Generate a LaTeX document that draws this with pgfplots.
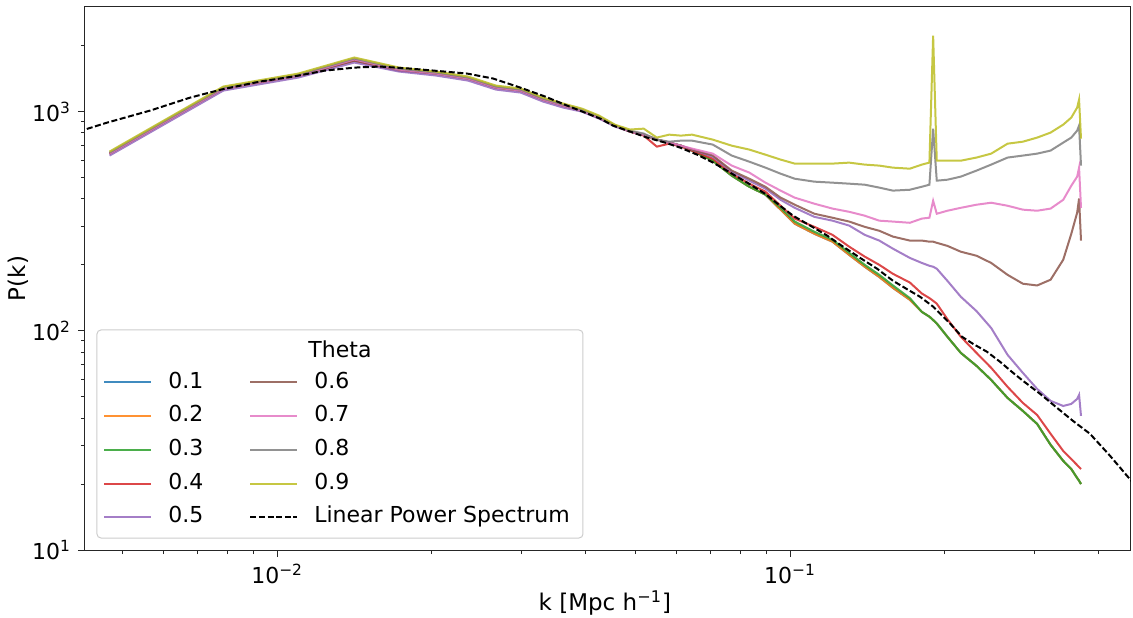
\documentclass[border=0pt]{standalone}
\usepackage{fontspec}
\setmainfont{DejaVu Sans}
\usepackage{pgfplots}
\usepackage{pgfplotstable}
\pgfplotsset{compat=1.18}
\usetikzlibrary{calc}
\definecolor{c1}{HTML}{1F77B4}
\definecolor{c2}{HTML}{FF7F0E}
\definecolor{c3}{HTML}{2CA02C}
\definecolor{c4}{HTML}{D62728}
\definecolor{c5}{HTML}{9467BD}
\definecolor{c6}{HTML}{8C564B}
\definecolor{c7}{HTML}{E377C2}
\definecolor{c8}{HTML}{7F7F7F}
\definecolor{c9}{HTML}{BCBD22}

\pgfplotstableread{
k a b c d e f g h i
0.004712 643 643 643 643 630 643 643 650 657
0.007854 1274 1274 1274 1274 1247 1274 1274 1287 1301
0.010996 1460 1460 1460 1460 1430 1460 1460 1475 1491
0.014137 1709 1709 1709 1709 1674 1709 1728 1746 1765
0.017279 1539 1539 1539 1539 1523 1555 1555 1571 1588
0.020420 1491 1491 1491 1491 1460 1491 1491 1507 1523
0.023562 1415 1415 1415 1415 1385 1415 1415 1430 1445
0.026704 1287 1287 1287 1287 1260 1287 1287 1301 1314
0.029845 1247 1247 1247 1247 1221 1247 1247 1260 1274
0.032987 1134 1134 1134 1134 1111 1134 1134 1146 1158
0.036128 1065 1065 1065 1065 1043 1065 1065 1076 1088
0.039270 1011 1011 1011 1011 1000 1011 1011 1021 1032
0.042412 939 939 939 939 929 939 939 949 959
0.045553 863 863 863 863 854 863 863 863 872
0.048695 811 811 811 811 811 811 811 819 828
0.051836 785 785 785 777 785 785 785 794 836
0.054978 745 745 745 692 745 745 745 745 761
0.058119 722 722 722 714 722 722 722 729 785
0.061261 699 699 699 692 699 699 699 737 777
0.064403 664 664 664 664 671 671 678 737 785
0.070686 597 597 597 610 623 630 643 707 745
0.076969 510 510 510 521 532 538 567 630 699
0.083252 454 454 454 469 484 494 527 591 671
0.089535 418 418 418 431 445 454 474 555 636
0.095819 357 357 364 372 396 405 436 521 604
0.102102 308 308 315 325 364 376 405 494 579
0.111527 277 277 283 298 331 342 380 479 579
0.120951 255 255 260 274 318 328 361 474 579
0.130376 222 222 227 242 302 315 349 469 585
0.139801 196 196 200 218 274 298 335 464 573
0.149226 176 176 180 200 258 286 318 450 567
0.158650 157 157 161 182 237 269 315 436 555
0.171217 138.5 138.5 141 166 215 258 311 440 549
0.180642 122 122 122 148 204 258 325 454 573
0.186925 116 116 116 141 198 255 328 464 585
0.190066 112 112 112 137 196 255 392 836 2223
0.193208 108 108 108 133 192 252 342 484 597
0.202633 93.9 93.9 93.9 113 169 244 353 489 597
0.215199 79.3 79.3 79.3 93.9 143 229.5 364 505 597
0.230907 69.2 69.2 69.2 79.3 123 220 376 538 617
0.246615 59.7 59.7 59.7 67.8 103 204 384 573 643
0.265465 49.4 49.4 49.4 55.5 77.7 180 372 617 714
0.284314 43.1 43.1 43.1 46.9 64.3 164 357 630 729
0.303164 37.6 37.6 37.6 41.3 54.3 161 353 643 761
0.322013 30.2 30.2 30.2 33.9 47.9 171 361 664 802
0.340863 25.5 25.5 25.5 28.3 45.4 211 396 722 872
0.353429 23.4 23.4 23.4 26.0 46.4 277 459 761 939
0.362854 21.3 21.3 21.3 24.4 48.9 346 505 819 1043
0.365996 20.7 20.7 20.7 23.9 51.0 401 555 863 1134
0.369137 20.0 20.0 20.0 23.4 40.9 258 364 567 753
}\spectra

\pgfplotstableread{
k P
0.0041 811
0.004663 891
0.005656 1011
0.006765 1158
0.007776 1260
0.009266 1371
0.010745 1445
0.012407 1539
0.014191 1588
0.015868 1605
0.018163 1571
0.020142 1539
0.023462 1491
0.026368 1415
0.029768 1287
0.033305 1171
0.036747 1065
0.042628 929
0.045186 863
0.048753 811
0.052625 761
0.057054 722
0.061064 685
0.065887 636
0.070795 585
0.076384 527
0.082451 474
0.089392 422
0.095609 372
0.10135 335
0.10940 302
0.11805 272
0.12687 242
0.13696 215
0.14776 192
0.15877 169
0.17134 152
0.17920 143
0.19000 129
0.20503 108
0.21638 93.9
0.22732 87.2
0.24210 80.2
0.25669 72.2
0.27211 64.3
0.28460 59.1
0.30714 51.6
0.33152 44.5
0.35619 38.8
0.38437 33.9
0.42052 26.9
0.47 19.8
}\linear

\begin{document}
\begin{tikzpicture}
\begin{loglogaxis}[
  scale only axis,
  width=523pt, height=271.5pt,
  xmin=0.00422, xmax=0.462,
  ymin=10, ymax=3000,
  axis line style={black!85, line width=0.5pt},
  tick pos=left,
  tick align=outside,
  major tick length=3.5pt,
  minor tick length=2pt,
  every tick/.style={black!85, line width=0.5pt},
  xtick={0.01,0.1},
  xticklabels={10\textsuperscript{−2},10\textsuperscript{−1}},
  minor xtick={0.005,0.006,0.007,0.008,0.009,0.02,0.03,0.04,0.05,0.06,0.07,0.08,0.09,0.2,0.3,0.4},
  ytick={10,100,1000},
  yticklabels={10\textsuperscript{1},10\textsuperscript{2},10\textsuperscript{3}},
  minor ytick={20,30,40,50,60,70,80,90,200,300,400,500,600,700,800,900,2000},
  ticklabel style={font=\fontsize{11}{13}\selectfont},
  xlabel={k [Mpc h\textsuperscript{−1}]},
  ylabel={P(k)},
  label style={font=\fontsize{11.5}{14}\selectfont},
  xlabel style={at={(axis description cs:0.497,-0.0976)}, anchor=center},
  ylabel style={at={(axis description cs:-0.064,0.5)}, anchor=center},
  legend columns=2,
  legend cell align=left,
  legend image code/.code={\draw[#1] (0pt,0pt) -- (23.5pt,0pt);},
  legend style={
    at={(rel axis cs:0.0172,0.3357)}, anchor=north west,
    draw=none, fill=none, inner sep=0pt,
    font=\fontsize{11}{13}\selectfont,
    nodes={inner sep=2pt, text height=8pt, text depth=2.3pt},
    row sep=2.55pt,
    /tikz/every odd column/.style={column sep=6pt},
    /tikz/every even column/.style={column sep=21pt},
  },
  after end axis/.code={
    \draw[black!20, line width=0.5pt, rounded corners=2pt]
      (rel axis cs:0.01147,0.0221) rectangle (rel axis cs:0.4761,0.4052);
    \node[font=\fontsize{11}{13}\selectfont] at (rel axis cs:0.2438,0.3702) {Theta};
    \coordinate (sw) at (rel axis cs:0,0);
    \coordinate (ne) at (rel axis cs:1,1);
  },
]
\addlegendimage{c1, line width=1pt, opacity=0.85}\addlegendentry{0.1}
\addlegendimage{c6, line width=1pt, opacity=0.85}\addlegendentry{0.6}
\addlegendimage{c2, line width=1pt, opacity=0.85}\addlegendentry{0.2}
\addlegendimage{c7, line width=1pt, opacity=0.85}\addlegendentry{0.7}
\addlegendimage{c3, line width=1pt, opacity=0.85}\addlegendentry{0.3}
\addlegendimage{c8, line width=1pt, opacity=0.85}\addlegendentry{0.8}
\addlegendimage{c4, line width=1pt, opacity=0.85}\addlegendentry{0.4}
\addlegendimage{c9, line width=1pt, opacity=0.85}\addlegendentry{0.9}
\addlegendimage{c5, line width=1pt, opacity=0.85}\addlegendentry{0.5}
\addlegendimage{black, line width=1pt, dash pattern=on 3pt off 1.3pt}\addlegendentry{Linear Power Spectrum}
\addplot[c1, line width=1pt, opacity=0.85, forget plot] table[x=k,y=a] {\spectra};
\addplot[c2, line width=1pt, opacity=0.85, forget plot] table[x=k,y=b] {\spectra};
\addplot[c3, line width=1pt, opacity=0.85, forget plot] table[x=k,y=c] {\spectra};
\addplot[c4, line width=1pt, opacity=0.85, forget plot] table[x=k,y=d] {\spectra};
\addplot[c5, line width=1pt, opacity=0.85, forget plot] table[x=k,y=e] {\spectra};
\addplot[c6, line width=1pt, opacity=0.85, forget plot] table[x=k,y=f] {\spectra};
\addplot[c7, line width=1pt, opacity=0.85, forget plot] table[x=k,y=g] {\spectra};
\addplot[c8, line width=1pt, opacity=0.85, forget plot] table[x=k,y=h] {\spectra};
\addplot[c9, line width=1pt, opacity=0.85, forget plot] table[x=k,y=i] {\spectra};
\addplot[black, line width=1pt, dash pattern=on 3pt off 1.3pt, forget plot] table[x=k,y=P] {\linear};
\end{loglogaxis}
\pgfresetboundingbox
\useasboundingbox ($(sw)+(-42.5pt,-33.5pt)$) rectangle ($(ne)+(1pt,3.5pt)$);
\end{tikzpicture}
\end{document}
